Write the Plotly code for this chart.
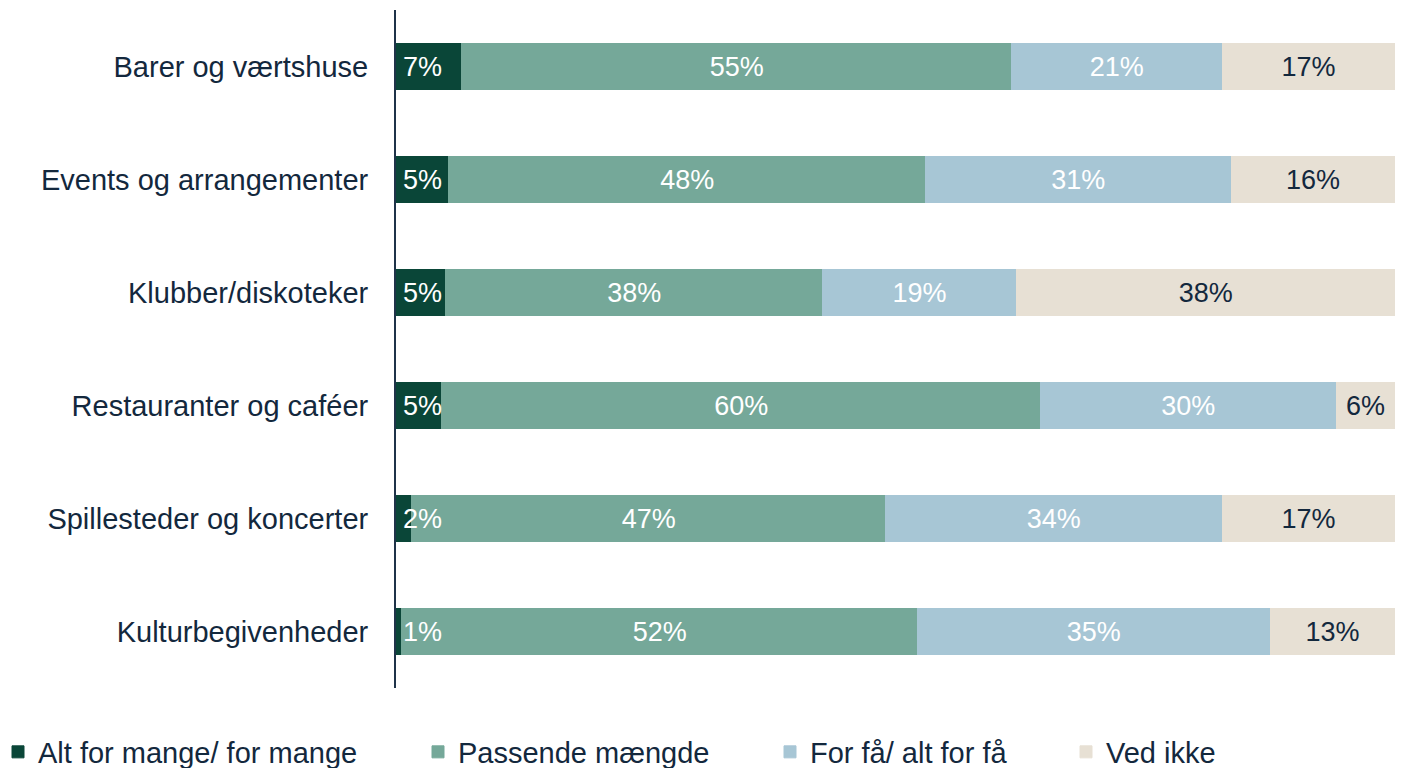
import plotly.graph_objects as go

# Categories (top to bottom)
categories = [
    "Barer og værtshuse",
    "Events og arrangementer",
    "Klubber/diskoteker",
    "Restauranter og caféer",
    "Spillesteder og koncerter",
    "Kulturbegivenheder",
]

# Shares in percent
alt_for_mange = [6.6, 5.3, 5.0, 4.6, 1.6, 0.6]
passende = [55.0, 47.7, 37.7, 59.9, 47.4, 51.6]
for_faa = [21.1, 30.6, 19.4, 29.6, 33.7, 35.3]
ved_ikke = [17.3, 16.4, 37.9, 5.9, 17.3, 12.5]

series_names = ["Alt for mange/ for mange", "Passende mængde", "For få/ alt for få", "Ved ikke"]
series_values = [alt_for_mange, passende, for_faa, ved_ikke]
colors = ["#0a4638", "#75a899", "#a7c6d5", "#e7e0d4"]
text_colors = ["white", "white", "white", "#13283d"]

FONT = "Liberation Sans, Arial, sans-serif"
DARK = "#13283d"

# the page body keeps its default 8px margin, so the figure sits 8px in from the corner
W, H = 1390, 760
M_L, M_R, M_T, M_B = 388, 3, 2, 80
plot_w = W - M_L - M_R
plot_h = H - M_T - M_B

fig = go.Figure()

# legend left edges in figure pixels
legend_px = [-10, 410, 762, 1058]
legend_keys = ["legend", "legend2", "legend3", "legend4"]

for i, (name, vals) in enumerate(zip(series_names, series_values)):
    fig.add_trace(
        go.Bar(
            y=categories,
            x=vals,
            name=name,
            orientation="h",
            marker=dict(color=colors[i], line=dict(color=colors[i], width=1)),
            texttemplate="%{x:.0f}%" if i > 0 else None,
            textposition="inside" if i > 0 else "none",
            insidetextanchor="middle",
            textangle=0,
            constraintext="none",
            textfont=dict(size=27, color=text_colors[i], family=FONT),
            legend=legend_keys[i],
            hoverinfo="skip",
        )
    )

# labels of the first (small) segment start at the axis, as in the original
for cat, v in zip(categories, alt_for_mange):
    fig.add_annotation(
        x=0, y=cat, xref="x", yref="y",
        text=f"{v:.0f}%",
        showarrow=False,
        xanchor="left",
        yanchor="middle",
        xshift=5,
        font=dict(size=27, color="white", family=FONT),
    )

layout_legends = {}
for i, key in enumerate(legend_keys):
    layout_legends[key] = dict(
        x=(legend_px[i] - M_L) / plot_w,
        xanchor="left",
        y=-64 / plot_h,
        yanchor="middle",
        orientation="h",
        font=dict(size=29, color=DARK, family=FONT),
        bgcolor="rgba(0,0,0,0)",
    )

fig.update_layout(
    barmode="stack",
    bargap=0.6,
    width=W,
    height=H,
    margin=dict(l=M_L, r=M_R, t=M_T, b=M_B, autoexpand=False),
    plot_bgcolor="white",
    paper_bgcolor="white",
    font=dict(family=FONT, color=DARK),
    showlegend=True,
    **layout_legends,
)

fig.update_xaxes(visible=False, range=[0, 100], fixedrange=True)
fig.update_yaxes(
    autorange="reversed",
    automargin=False,
    showline=True,
    linecolor="#1f3349",
    linewidth=2,
    showgrid=False,
    ticks="",
    ticklabelstandoff=20,
    tickfont=dict(size=29, color=DARK, family=FONT),
)

fig.write_html("out.html")
